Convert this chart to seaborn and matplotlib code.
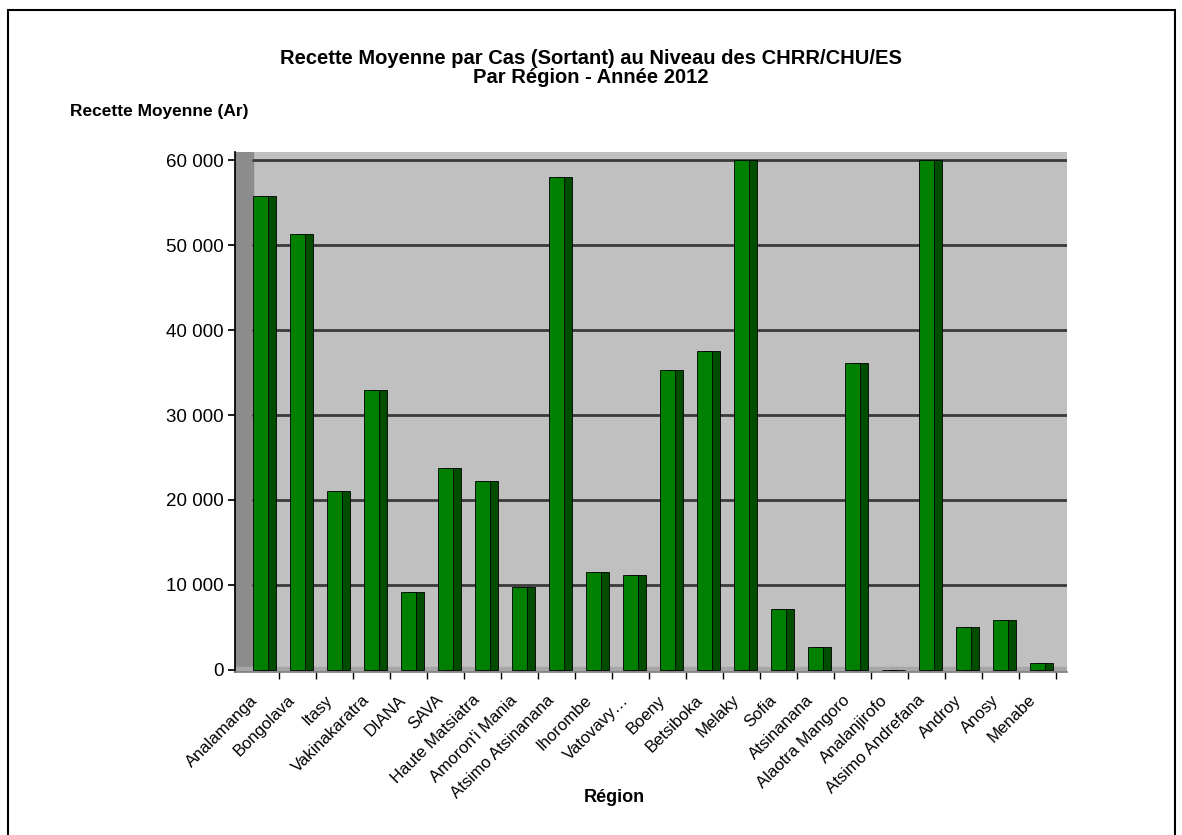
import numpy as np
import pandas as pd
import matplotlib
matplotlib.use("Agg")
import matplotlib.pyplot as plt
import matplotlib.patches as mpatches
import matplotlib.transforms as mtransforms
from matplotlib.ticker import FuncFormatter, MultipleLocator, FixedLocator
import seaborn as sns

regions = [
    "Analamanga", "Bongolava", "Itasy", "Vakinakaratra", "DIANA", "SAVA",
    "Haute Matsiatra", "Amoron'i Mania", "Atsimo Atsinanana", "Ihorombe",
    "Vatovavy…", "Boeny", "Betsiboka", "Melaky", "Sofia", "Atsinanana",
    "Alaotra Mangoro", "Analanjirofo", "Atsimo Andrefana", "Androy", "Anosy",
    "Menabe",
]
recette = [
    55800, 51300, 21000, 33000, 9200, 23800, 22200, 9700, 58000, 11500,
    11100, 35300, 37500, 60100, 7100, 2700, 36100, 0, 60100, 5000, 5900, 800,
]

df = pd.DataFrame({"Région": regions, "Recette": recette})

sns.set_theme(style="white")
plt.rcParams["font.family"] = ["Liberation Sans", "DejaVu Sans"]
plt.rcParams["text.color"] = "black"
plt.rcParams["xtick.color"] = "black"
plt.rcParams["ytick.color"] = "black"
plt.rcParams["axes.labelcolor"] = "black"

fig = plt.figure(figsize=(11.82, 8.35), dpi=100)
ax = fig.add_axes([0.199, 0.195, 0.704, 0.623])
ax.set_facecolor("#c0c0c0")

# outer frame of the chart
fig.patches.append(mpatches.Rectangle((0.007, -0.01), 0.987, 0.998, transform=fig.transFigure,
                                      fill=False, edgecolor="black", linewidth=1.5))

n = len(regions)
x = np.arange(n)
# side face of the bars (fake 3D)
ax.bar(x + 0.2, df["Recette"], width=0.42, color="#004d00", edgecolor="black",
       linewidth=0.6, zorder=2)
sns.barplot(data=df, x="Région", y="Recette", color="#008000", saturation=1,
            width=0.4, edgecolor="black", linewidth=0.6, ax=ax, zorder=3)

# left wall and floor
ax.axvspan(-0.68, -0.2, color="#8c8c8c", zorder=1)
ax.axhspan(-1200, 300, color="#a6a6a6", zorder=1)

ax.set_xlim(-0.68, n - 0.2)
ax.set_ylim(-300, 61000)
ax.yaxis.set_major_locator(MultipleLocator(10000))
ax.yaxis.set_major_formatter(FuncFormatter(lambda v, p: f"{int(v):,}".replace(",", " ")))
for yv in range(10000, 60001, 10000):
    ax.plot([-0.2, n - 0.2], [yv, yv], color="#3a3a3a", linewidth=2, zorder=1.5)

for s in ["top", "right"]:
    ax.spines[s].set_visible(False)
ax.spines["left"].set_color("black")
ax.spines["bottom"].set_color("#808080")

ax.tick_params(axis="y", labelsize=13.5, length=5, color="black", direction="out", left=True)
ax.set_xticks(x)
ax.set_xticklabels(regions, rotation=45, ha="right", rotation_mode="anchor")
ax.xaxis.set_minor_locator(FixedLocator(x + 0.5))
ax.tick_params(axis="x", which="major", labelsize=12, length=0, pad=16)
ax.tick_params(axis="x", which="minor", length=5, color="black", direction="out", bottom=True)
shift = mtransforms.ScaledTranslation(-0.1, 0.02, fig.dpi_scale_trans)
for lbl in ax.get_xticklabels():
    lbl.set_transform(lbl.get_transform() + shift)

ax.set_xlabel("Région", fontsize=13, fontweight="bold")
ax.xaxis.set_label_coords(0.455, -0.225)
ax.set_ylabel("")

fig.text(0.5, 0.918, "Recette Moyenne par Cas (Sortant) au Niveau des CHRR/CHU/ES\nPar Région - Année 2012",
         ha="center", va="center", fontsize=14.5, fontweight="bold", linespacing=1.0)
fig.text(0.059, 0.866, "Recette Moyenne (Ar)", ha="left", va="center", fontsize=12.5, fontweight="bold")

fig.savefig("out.png", dpi=100)
